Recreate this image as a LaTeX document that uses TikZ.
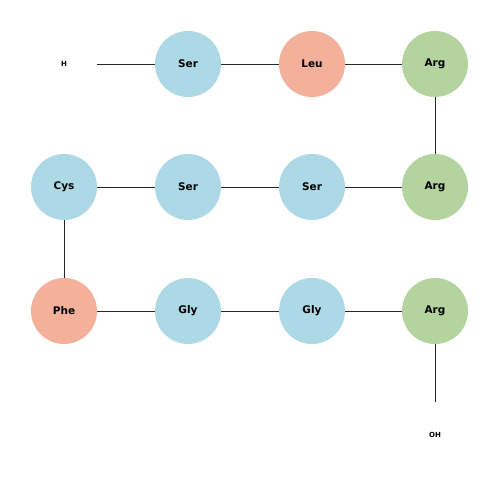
\documentclass[tikz,border=0pt]{standalone}
\usepackage{fontspec}
\setmainfont{DejaVu Sans}
\definecolor{polar}{RGB}{173,216,230}
\definecolor{hydro}{RGB}{243,177,155}
\definecolor{basic}{RGB}{179,212,158}
\tikzset{
	res/.style={circle, minimum size=66pt, inner sep=0pt, font=\bfseries\fontsize{10.5}{12}\selectfont},
	term/.style={circle, minimum size=66pt, inner sep=0pt, font=\bfseries\fontsize{7}{8}\selectfont},
	bond/.style={line width=0.8pt, color=black!85}
}
\begin{document}
\begin{tikzpicture}[x=1pt, y=-1pt]
		%%%%% START %%%%%
		
		\useasboundingbox (0, 0) rectangle (500, 500);
		
		\node[term] (h) at (64, 64) {H};
		\node[res, fill=polar] (s1) at (188, 64) {Ser};
		\node[res, fill=hydro] (l1) at (312, 64) {Leu};
		\node[res, fill=basic] (r1) at (435, 64) {Arg};
		
		\node[res, fill=polar] (c2) at (64, 187) {Cys};
		\node[res, fill=polar] (s2) at (188, 187) {Ser};
		\node[res, fill=polar] (s3) at (312, 187) {Ser};
		\node[res, fill=basic] (r2) at (435, 187) {Arg};
		
		\node[res, fill=hydro] (f3) at (64, 311) {Phe};
		\node[res, fill=polar] (g1) at (188, 311) {Gly};
		\node[res, fill=polar] (g2) at (312, 311) {Gly};
		\node[res, fill=basic] (r3) at (435, 311) {Arg};
		
		\node[term] (oh) at (435, 435) {OH};
		
		\draw[bond] (h) -- (s1) -- (l1) -- (r1) -- (r2);
		\draw[bond] (r2) -- (s3) -- (s2) -- (c2) -- (f3);
		\draw[bond] (f3) -- (g1) -- (g2) -- (r3) -- (oh);
		
		%%%%% END %%%%%
	\end{tikzpicture}
\end{document}
